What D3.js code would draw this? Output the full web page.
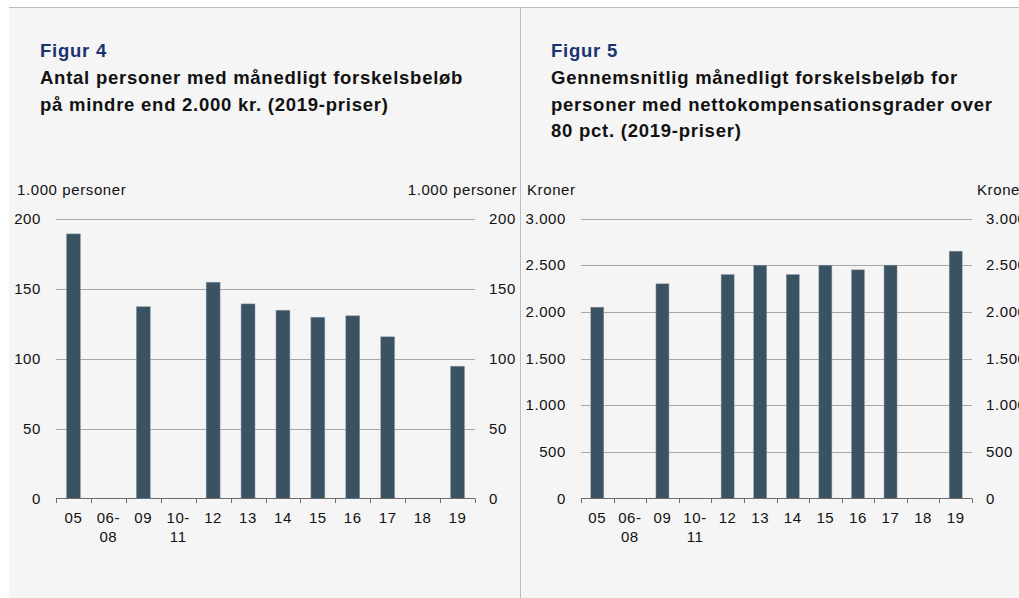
<!DOCTYPE html>
<html>
<head>
<meta charset="utf-8">
<script src="https://cdn.jsdelivr.net/npm/d3@7"></script>
<style>
  body { margin: 0; background: #fff; }
  svg { display: block; font-family: Arial, Helvetica, sans-serif; }
</style>
</head>
<body>
<script>
// data
const categories = ["05", "06-08", "09", "10-11", "12", "13", "14", "15", "16", "17", "18", "19"];
const personsValues = [189, null, 137, null, 154.5, 139, 134.5, 129.5, 130.5, 115.5, null, 94.5];
const kronerValues = [2050, null, 2300, null, 2400, 2500, 2400, 2500, 2450, 2500, null, 2650];
const personsTicks = [0, 50, 100, 150, 200];
const kronerTicks = [0, 500, 1000, 1500, 2000, 2500, 3000];

const fig4Title = ["Antal personer med månedligt forskelsbeløb", "på mindre end 2.000 kr. (2019-priser)"];
const fig5Title = ["Gennemsnitlig månedligt forskelsbeløb for", "personer med nettokompensationsgrader over", "80 pct. (2019-priser)"];

const width = 1019, height = 598;
const da = d3.formatLocale({decimal: ",", thousands: ".", grouping: [3], currency: ["", " kr."]});
const fmt = da.format(",");

// text styles
const small = sel => sel.attr("font-size", "15px").attr("letter-spacing", "0.6px").attr("fill", "#111");
const big = sel => sel.attr("font-size", "18.5px").attr("letter-spacing", "0.75px").attr("font-weight", "bold");

const svg = d3.select("body").append("svg")
	.attr("width", width)
	.attr("height", height);

//panel background + frame lines
svg.append("rect").attr("x", 9).attr("y", 7).attr("width", width - 9).attr("height", height - 7).attr("fill", "#f5f5f5");
svg.append("line").attr("x1", 9).attr("x2", width).attr("y1", 7.5).attr("y2", 7.5).attr("stroke", "#bdbdbd");
svg.append("line").attr("x1", 520.5).attr("x2", 520.5).attr("y1", 7).attr("y2", height).attr("stroke", "#bdbdbd");

const drawPanel = (o) => {
	const g = svg.append("g");

	// headings
	g.append("text")
		.attr("x", o.titleX).attr("y", 57)
		.call(big)
		.attr("fill", "#1b3370")
		.text(o.figur);
	g.selectAll("text.title")
		.data(o.title)
		.join("text")
		.attr("class", "title")
		.attr("x", o.titleX)
		.attr("y", (d, i) => 84 + i * 26.5)
		.call(big)
		.attr("fill", "#111")
		.text(d => d);

	const x = d3.scaleBand().domain(categories).range([o.left, o.right]).padding(0);
	const y = d3.scaleLinear().domain([0, d3.max(o.ticks)]).range([498.5, 218.5]);

	// unit labels
	g.append("text").attr("x", o.unitLeft).attr("y", 195).call(small).text(o.unit);
	g.append("text").attr("x", o.unitRight).attr("y", 195).call(small)
		.attr("text-anchor", o.unitRightAnchor).text(o.unit);

	// gridlines
	g.append("g").selectAll("line")
		.data(o.ticks.filter(t => t > 0))
		.join("line")
		.attr("x1", o.left).attr("x2", o.right)
		.attr("y1", d => Math.round(y(d)) + 0.5).attr("y2", d => Math.round(y(d)) + 0.5)
		.attr("stroke", "#a6a6a6");

	// bars
	const bw = x.bandwidth() * 0.4;
	g.append("g").selectAll("rect")
		.data(categories.map((c, i) => ({c, v: o.values[i]})).filter(d => d.v != null))
		.join("rect")
		.attr("x", d => x(d.c) + (x.bandwidth() - bw) / 2)
		.attr("width", bw)
		.attr("y", d => y(d.v))
		.attr("height", d => y(0) - y(d.v))
		.attr("fill", "#3b5263")
		.attr("stroke", "#8fa0ad")
		.attr("stroke-width", 0.5);

	// y axes (labels only)
	const yl = g.append("g").attr("transform", `translate(${o.left},0)`)
		.call(d3.axisLeft(y).tickValues(o.ticks).tickSize(0).tickPadding(15).tickFormat(fmt));
	const yr = g.append("g").attr("transform", `translate(${o.right},0)`)
		.call(d3.axisRight(y).tickValues(o.ticks).tickSize(0).tickPadding(14).tickFormat(fmt));
	[yl, yr].forEach(a => {
		a.select(".domain").remove();
		a.selectAll("text").attr("font-family", null).call(small);
	});

	// x axis baseline and boundary ticks
	const base = g.append("g");
	base.append("line")
		.attr("x1", o.left).attr("x2", o.right)
		.attr("y1", 498.5).attr("y2", 498.5)
		.attr("stroke", "#6b6b6b");
	base.selectAll("line.tk")
		.data(d3.range(categories.length + 1))
		.join("line")
		.attr("class", "tk")
		.attr("x1", i => Math.round(o.left + i * x.step()) + 0.5)
		.attr("x2", i => Math.round(o.left + i * x.step()) + 0.5)
		.attr("y1", 498.5).attr("y2", 503)
		.attr("stroke", "#6b6b6b");

	// category labels, split on the hyphen
	const lab = g.append("g").selectAll("text")
		.data(categories)
		.join("text")
		.attr("text-anchor", "middle")
		.call(small)
		.attr("x", d => x(d) + x.bandwidth() / 2)
		.attr("y", 523);
	lab.selectAll("tspan")
		.data(d => d.includes("-") ? [d.split("-")[0] + "-", d.split("-")[1]] : [d])
		.join("tspan")
		.attr("x", function() { return this.parentNode.getAttribute("x"); })
		.attr("dy", (d, i) => i === 0 ? 0 : 18.5)
		.text(d => d);
};

drawPanel({
	figur: "Figur 4", title: fig4Title, titleX: 40,
	left: 56, right: 475, values: personsValues, ticks: personsTicks,
	unit: "1.000 personer", unitLeft: 17, unitRight: 517, unitRightAnchor: "end"
});

drawPanel({
	figur: "Figur 5", title: fig5Title, titleX: 551,
	left: 581, right: 972, values: kronerValues, ticks: kronerTicks,
	unit: "Kroner", unitLeft: 527, unitRight: 977, unitRightAnchor: "start"
});
</script>
</body>
</html>
